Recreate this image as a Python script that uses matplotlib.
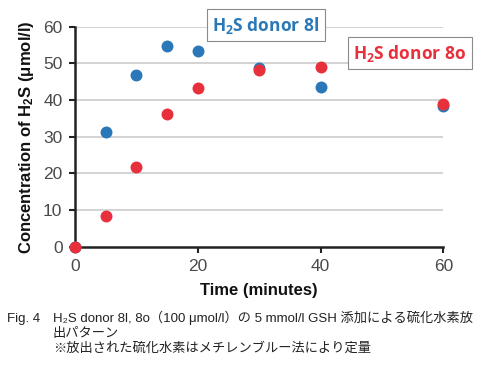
import matplotlib
matplotlib.use("Agg")
import matplotlib.pyplot as plt

plt.rcParams['mathtext.default'] = 'regular'

time_8l = [0, 5, 10, 15, 20, 30, 40, 60]
conc_8l = [0, 31.2, 46.9, 54.8, 53.3, 48.7, 43.5, 38.5]
time_8o = [0, 5, 10, 15, 20, 30, 40, 60]
conc_8o = [0, 8.5, 21.8, 36.3, 43.2, 48.1, 48.9, 38.9]
x_ticks = [0, 20, 40, 60]
y_ticks = [0, 10, 20, 30, 40, 50, 60]

blue = '#2b78b8'
red = '#e8303c'
tick_gray = '#4a4a4a'

fig = plt.figure(figsize=(4.95, 3.66), dpi=100)
ax = fig.add_axes([75/495, 1-246.7/366, (443.3-75)/495, (246.7-26.7)/366])
ax.set_xlim(0, 60)
ax.set_ylim(0, 60)

for y in y_ticks[1:]:
    ax.axhline(y, color='#d0d0d0', lw=1.3, zorder=0)

ax.plot(time_8l, conc_8l, 'o', color=blue, ms=8.6, mew=0, clip_on=False, zorder=3)
ax.plot(time_8o, conc_8o, 'o', color=red, ms=8.6, mew=0, clip_on=False, zorder=4)

for s in ['top', 'right']:
    ax.spines[s].set_visible(False)
for s in ['left', 'bottom']:
    ax.spines[s].set_color('#222222')
    ax.spines[s].set_linewidth(1.8)

ax.set_xticks(x_ticks)
ax.set_yticks(y_ticks)
ax.tick_params(axis='both', length=4, width=1.5, color='#222222',
               labelsize=12.5, labelcolor=tick_gray, pad=5)
for lab in ax.get_xticklabels() + ax.get_yticklabels():
    lab.set_family(['Liberation Sans', 'DejaVu Sans'])

ax.set_xlabel('Time (minutes)', fontsize=12, fontweight='bold',
              family=['Liberation Sans', 'DejaVu Sans'], labelpad=6, color='#111111')
ax.set_ylabel('Concentration of H$_2$S (μmol/l)', fontsize=12, fontweight='bold',
              family=['Liberation Sans', 'DejaVu Sans'], labelpad=5, color='#111111')

fig.text(266/495, 1-25/366, 'H$_2$S donor 8l', color=blue, fontsize=12.5, fontweight='bold',
         family=['Open Sans', 'DejaVu Sans'], ha='center', va='center',
         bbox=dict(boxstyle='square,pad=0.3', fc='white', ec='#8a8a8a', lw=0.8))
fig.text(410/495, 1-53/366, 'H$_2$S donor 8o', color=red, fontsize=12.5, fontweight='bold',
         family=['Open Sans', 'DejaVu Sans'], ha='center', va='center',
         bbox=dict(boxstyle='square,pad=0.3', fc='white', ec='#8a8a8a', lw=0.8))

cap_font = ['Liberation Sans', 'Noto Sans CJK JP', 'DejaVu Sans']
cap_size = 9.5
fig.text(7/495, 1-322/366, 'Fig. 4', fontsize=cap_size, family=cap_font, color='#222222', va='baseline')
fig.text(53/495, 1-322/366, 'H₂S donor 8l, 8o（100 μmol/l）の 5 mmol/l GSH 添加による硫化水素放',
         fontsize=cap_size, family=cap_font, color='#222222', va='baseline')
fig.text(53/495, 1-337/366, '出パターン', fontsize=cap_size, family=cap_font, color='#222222', va='baseline')
fig.text(53/495, 1-352/366, '※放出された硫化水素はメチレンブルー法により定量',
         fontsize=cap_size, family=cap_font, color='#222222', va='baseline')

fig.savefig('out.png', dpi=100)
